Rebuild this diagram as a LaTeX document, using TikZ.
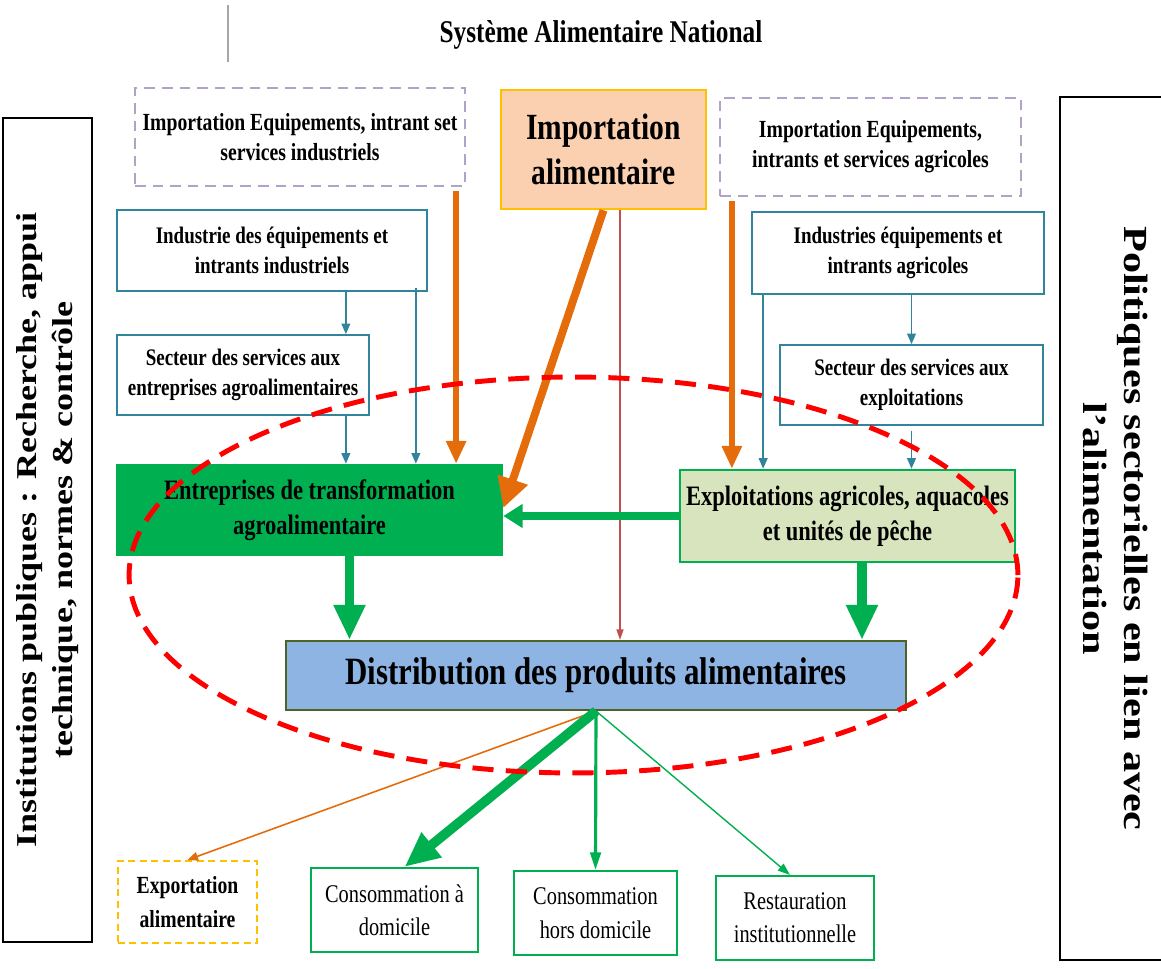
\documentclass[tikz,border=0pt]{standalone}
\usepackage{fontspec}
\usepackage{graphicx}
\setmainfont{Liberation Serif}[FakeStretch=0.8]
\newfontfamily\sidefont{Liberation Serif}
\usetikzlibrary{arrows.meta,calc}
\definecolor{tealc}{RGB}{49,132,155}
\definecolor{orangec}{RGB}{228,108,10}
\definecolor{greenc}{RGB}{0,176,80}
\definecolor{lightgreen}{RGB}{215,228,189}
\definecolor{bluefill}{RGB}{142,180,227}
\definecolor{oliveline}{RGB}{79,98,40}
\definecolor{peach}{RGB}{250,208,176}
\definecolor{gold}{RGB}{255,192,0}
\definecolor{lilac}{RGB}{179,162,199}
\definecolor{pinkc}{RGB}{192,80,77}
\newcommand{\sidetext}[1]{\scalebox{1}[0.8]{\begin{tabular}{@{}c@{}}#1\end{tabular}}}

\begin{document}
\begin{tikzpicture}[x=0.02cm,y=-0.02cm,
  box/.style={draw=tealc,line width=1pt,align=center,inner sep=2pt,
    font=\fontsize{13.5}{17}\selectfont\bfseries},
  impbox/.style={draw=lilac,line width=1.3pt,dash pattern=on 6pt off 4pt,align=center,
    font=\fontsize{14}{17}\selectfont\bfseries},
  mainbox/.style={align=center,inner sep=2pt,font=\fontsize{16}{20}\selectfont\bfseries},
  outbox/.style={draw=greenc,line width=1.2pt,align=center,
    font=\fontsize{14.5}{19}\selectfont},
  sidebox/.style={draw=black,line width=1.3pt,align=center,font=\sidefont\bfseries},
  tealarr/.style={draw=tealc,line width=0.9pt,-{Triangle[length=6pt,width=5pt]}},
  orgarr/.style={draw=orangec,line width=3pt,-{Triangle[length=13pt,width=11pt]}},
  orgbig/.style={draw=orangec,line width=4.5pt,-{Triangle[length=17pt,width=17pt]}},
  orgthin/.style={draw=orangec,line width=0.9pt,-{Triangle[length=6pt,width=5pt]}},
  grnarr/.style={draw=greenc,line width=4pt,-{Triangle[length=11pt,width=13pt]}},
  grnbig/.style={draw=greenc,line width=5.5pt,-{Triangle[length=20pt,width=17pt]}},
  grnmid/.style={draw=greenc,line width=1.8pt,-{Triangle[length=10pt,width=6pt]}},
  grnthin/.style={draw=greenc,line width=0.8pt,-{Triangle[length=7pt,width=5pt]}},
  pinkarr/.style={draw=pinkc,line width=0.8pt,-{Triangle[length=6pt,width=4pt]}}]
\useasboundingbox (0,0) rectangle (1161,969);

% en-tete
\draw[gray!70,line width=0.6pt] (228,5) -- (228,62);
\node[font=\fontsize{18}{20}\selectfont\bfseries] (titre) at (601,35) {Système Alimentaire National};

% cadres lateraux
\node[sidebox,rotate=90,minimum width=16.48cm,minimum height=1.78cm,
  font=\sidefont\bfseries\fontsize{20.5}{25}\selectfont] (inst) at (47.5,530)
  {\sidetext{Institutions publiques : Recherche, appui\\technique,  normes \& contrôle}};
\node[sidebox,rotate=-90,minimum width=17.26cm,minimum height=2.08cm,
  font=\sidefont\bfseries\fontsize{24}{29}\selectfont] (polit) at (1112,528.5)
  {\sidetext{Politiques sectorielles en lien avec\\l’alimentation}};

% importations
\node[impbox,minimum width=6.6cm,minimum height=1.96cm] (impind) at (300,137)
  {Importation Equipements, intrant set\\services industriels};
\node[draw=gold,fill=peach,line width=1.5pt,align=center,minimum width=4.1cm,minimum height=2.38cm,
  font=\fontsize{21}{26}\selectfont\bfseries] (impal) at (603.5,149.5) {Importation\\alimentaire};
\node[impbox,minimum width=6.02cm,minimum height=1.96cm] (impagr) at (870.5,147)
  {Importation Equipements,\\intrants et services agricoles};

% industries et services
\node[box,minimum width=6.2cm,minimum height=1.62cm] (indind) at (272,250.5)
  {Industrie des équipements et\\intrants industriels};
\node[box,minimum width=5.84cm,minimum height=1.64cm] (indagr) at (898,253)
  {Industries équipements et\\intrants agricoles};
\node[box,minimum width=5.04cm,minimum height=1.6cm] (secind) at (243,375)
  {Secteur des services aux\\entreprises agroalimentaires};
\node[box,minimum width=5.26cm,minimum height=1.6cm] (secagr) at (911.5,385)
  {Secteur des services aux\\exploitations};

% production
\node[mainbox,fill=greenc,minimum width=7.74cm,minimum height=1.84cm] (entr) at (309.5,510)
  {Entreprises de transformation\\agroalimentaire};
\node[mainbox,draw=greenc,fill=lightgreen,line width=1.5pt,minimum width=6.7cm,minimum height=1.84cm] (expl) at (847.5,516)
  {Exploitations agricoles, aquacoles\\et unités de pêche};
\node[draw=oliveline,fill=bluefill,line width=1.2pt,minimum width=12.4cm,minimum height=1.38cm,
  font=\fontsize{22}{24}\selectfont\bfseries] (distr) at (596,675.5) {Distribution des produits alimentaires};

% debouches
\node[draw=gold,line width=1.2pt,dash pattern=on 4pt off 2.5pt,align=center,minimum width=2.78cm,minimum height=1.64cm,
  font=\fontsize{14}{19}\selectfont\bfseries] (export) at (187.5,902) {Exportation\\alimentaire};
\node[outbox,minimum width=3.34cm,minimum height=1.68cm] (consdom) at (394.5,910) {Consommation à\\domicile};
\node[outbox,minimum width=3.26cm,minimum height=1.68cm] (conshors) at (595.5,913) {Consommation\\hors domicile};
\node[outbox,minimum width=3.16cm,minimum height=1.68cm] (resto) at (795,918) {Restauration\\institutionnelle};

% flux amont
\draw[tealarr] ([xshift=-0.48cm]secind.north east |- indind.south) -- ([xshift=-0.48cm]secind.north east);
\draw[tealarr] ([xshift=-0.48cm]secind.south east) -- ([xshift=-0.48cm]secind.south east |- entr.north);
\draw[tealarr] ([xshift=-0.24cm,yshift=0.08cm]indind.south east) -- ([xshift=-0.24cm]indind.south east |- entr.north);
\draw[orgarr] ([xshift=-0.2cm,yshift=-0.08cm]impind.south east) -- ([xshift=-0.2cm]impind.south east |- entr.north);
\draw[orgbig] (impal.south) -- ($(entr.east)+(0,-2)$);
\draw[pinkarr] ([xshift=0.33cm]impal.south) -- ([xshift=0.33cm]impal.south |- distr.north);
\draw[orgarr] ([xshift=0.26cm,yshift=-0.08cm]impagr.south west) -- ([xshift=0.26cm]impagr.south west |- expl.north);
\draw[tealarr] ([xshift=0.24cm]indagr.south west) -- ([xshift=0.24cm]indagr.south west |- expl.north);
\draw[tealarr] (secagr.north |- indagr.south) -- (secagr.north);
\draw[tealarr] ([yshift=-0.1cm]secagr.south) -- (secagr.south |- expl.north);

% flux vers la distribution
\draw[grnarr] (expl.west) -- (expl.west -| entr.east);
\draw[grnbig] ([xshift=0.8cm]entr.south) -- ([xshift=0.8cm]entr.south |- distr.north);
\draw[grnbig] ([xshift=0.29cm]expl.south) -- ([xshift=0.29cm]expl.south |- distr.north);

% flux aval
\draw[orgthin] (distr.south) -- (export.north);
\draw[grnbig] (distr.south) -- ([xshift=0.2cm]consdom.north);
\draw[grnmid] (distr.south) -- (conshors.north);
\draw[grnthin] (distr.south) -- ([xshift=-0.1cm]resto.north);

% perimetre du systeme
\draw[red,line width=2.8pt,dash pattern=on 12pt off 7pt] (573.5,575) ellipse [x radius=8.89cm, y radius=3.96cm];
\end{tikzpicture}
\end{document}
